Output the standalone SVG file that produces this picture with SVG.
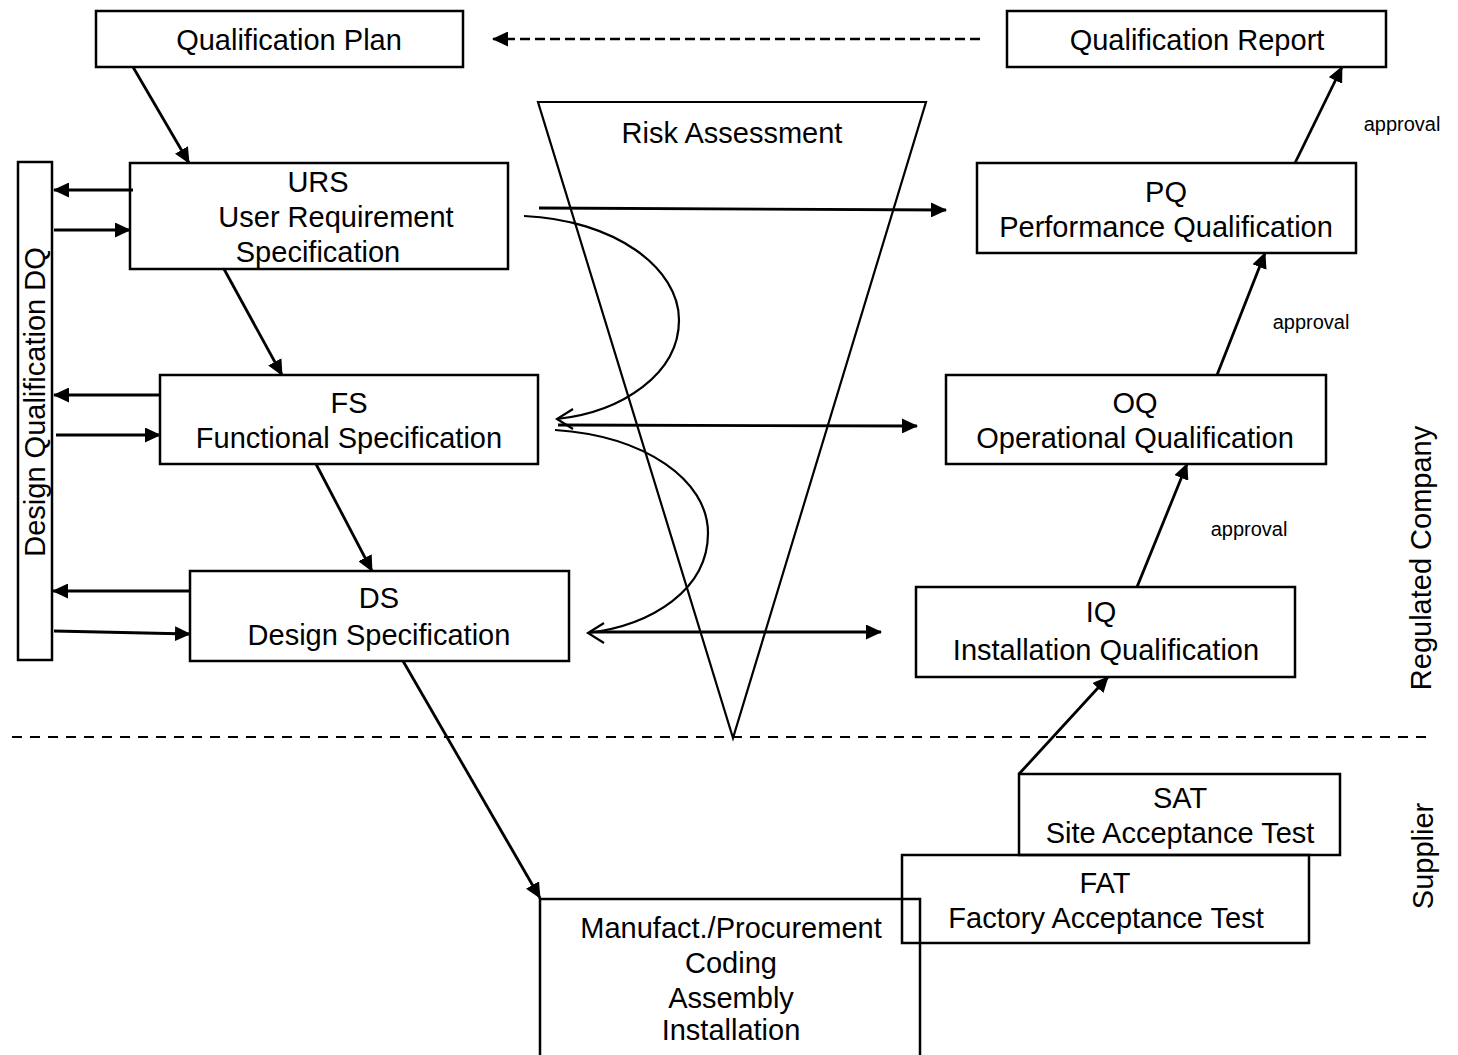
<svg xmlns="http://www.w3.org/2000/svg" width="1458" height="1055" viewBox="0 0 1458 1055">
  <style>
    .box { fill: none; stroke: #000; stroke-width: 2.5; }
    .lbl { font-family: "Liberation Sans", Arial, sans-serif; font-size: 29px; fill: #000; text-anchor: middle; }
    .small { font-family: "Liberation Sans", Arial, sans-serif; font-size: 20px; fill: #000; text-anchor: middle; }
    .arr { fill: none; stroke: #000; stroke-width: 2.8; marker-end: url(#head); }
    .curve { fill: none; stroke: #000; stroke-width: 2.2; }
    .open { fill: none; stroke: #000; stroke-width: 2.2; }
    .dash { fill: none; stroke: #000; stroke-width: 2.2; stroke-dasharray: 10 8; }
  </style>
  <defs>
    <marker id="head" markerUnits="userSpaceOnUse" markerWidth="16" markerHeight="15" refX="15" refY="7.5" orient="auto">
      <path d="M0,0 L16,7.5 L0,15 Z" fill="#000"/>
    </marker>
  </defs>
  <rect width="1458" height="1055" fill="#fff"/>

  <!-- phase boundary -->
  <line class="dash" x1="12" y1="737" x2="1432" y2="737"/>

  <!-- risk funnel -->
  <g id="risk">
    <polygon points="538,102 926,102 733,738" fill="none" stroke="#000" stroke-width="2.2"/>
    <text class="lbl" x="732" y="143">Risk Assessment</text>
  </g>

  <g id="qplan">
    <rect class="box" x="96" y="11" width="367" height="56"/>
    <text class="lbl" x="289" y="50">Qualification Plan</text>
  </g>
  <g id="qreport">
    <rect class="box" x="1007" y="11" width="379" height="56"/>
    <text class="lbl" x="1197" y="50">Qualification Report</text>
  </g>
  <g id="dq">
    <rect class="box" x="18" y="162" width="34" height="498"/>
    <text class="lbl" transform="translate(45,402) rotate(-90)">Design Qualification DQ</text>
  </g>
  <g id="urs">
    <rect class="box" x="130" y="163" width="378" height="106"/>
    <text class="lbl" x="318" y="192">URS</text>
    <text class="lbl" x="336" y="227">User Requirement</text>
    <text class="lbl" x="318" y="262">Specification</text>
  </g>
  <g id="fs">
    <rect class="box" x="160" y="375" width="378" height="89"/>
    <text class="lbl" x="349" y="413">FS</text>
    <text class="lbl" x="349" y="448">Functional Specification</text>
  </g>
  <g id="ds">
    <rect class="box" x="190" y="571" width="379" height="90"/>
    <text class="lbl" x="379" y="608">DS</text>
    <text class="lbl" x="379" y="645">Design Specification</text>
  </g>
  <g id="pq">
    <rect class="box" x="977" y="163" width="379" height="90"/>
    <text class="lbl" x="1166" y="202">PQ</text>
    <text class="lbl" x="1166" y="237">Performance Qualification</text>
  </g>
  <g id="oq">
    <rect class="box" x="946" y="375" width="380" height="89"/>
    <text class="lbl" x="1135" y="413">OQ</text>
    <text class="lbl" x="1135" y="448">Operational Qualification</text>
  </g>
  <g id="iq">
    <rect class="box" x="916" y="587" width="379" height="90"/>
    <text class="lbl" x="1101" y="622">IQ</text>
    <text class="lbl" x="1106" y="660">Installation Qualification</text>
  </g>
  <g id="sat">
    <rect class="box" x="1019" y="774" width="321" height="81"/>
    <text class="lbl" x="1180" y="808">SAT</text>
    <text class="lbl" x="1180" y="843">Site Acceptance Test</text>
  </g>
  <g id="fat">
    <rect class="box" x="902" y="855" width="407" height="88"/>
    <text class="lbl" x="1105" y="893">FAT</text>
    <text class="lbl" x="1106" y="928">Factory Acceptance Test</text>
  </g>
  <g id="manufacture">
    <rect class="box" x="540" y="899" width="380" height="170"/>
    <text class="lbl" x="731" y="938">Manufact./Procurement</text>
    <text class="lbl" x="731" y="973">Coding</text>
    <text class="lbl" x="731" y="1008">Assembly</text>
    <text class="lbl" x="731" y="1040">Installation</text>
  </g>

  <!-- side labels -->
  <g id="side-labels">
    <text class="lbl" transform="translate(1431,558) rotate(-90)">Regulated Company</text>
    <text class="lbl" transform="translate(1433,856) rotate(-90)">Supplier</text>
    <text class="small" x="1402" y="131">approval</text>
    <text class="small" x="1311" y="329">approval</text>
    <text class="small" x="1249" y="536">approval</text>
  </g>

  <g id="connectors">
    <!-- report feeds back into plan -->
    <line x1="980" y1="39" x2="493" y2="39" fill="none" stroke="#000" stroke-width="2.6" stroke-dasharray="10 5" marker-end="url(#head)"/>

    <!-- left leg -->
    <line class="arr" x1="133" y1="67" x2="189" y2="163"/>
    <line class="arr" x1="224" y1="269" x2="282" y2="375"/>
    <line class="arr" x1="316" y1="464" x2="372" y2="571"/>
    <line class="arr" x1="403" y1="661" x2="540" y2="898"/>

    <!-- design qualification exchange -->
    <line class="arr" x1="133" y1="190" x2="54" y2="190"/>
    <line class="arr" x1="54" y1="230" x2="130" y2="230"/>
    <line class="arr" x1="160" y1="395" x2="54" y2="395"/>
    <line class="arr" x1="56" y1="435" x2="160" y2="435"/>
    <line class="arr" x1="190" y1="591" x2="53" y2="591"/>
    <line class="arr" x1="54" y1="631" x2="190" y2="634"/>

    <!-- specification to qualification -->
    <line class="arr" x1="539" y1="208" x2="946" y2="210"/>
    <line class="arr" x1="558" y1="425" x2="917" y2="426"/>
    <line class="arr" x1="590" y1="632" x2="881" y2="632"/>

    <!-- risk feedback loops -->
    <path class="curve" d="M524,216 C615,220 679,268 679,320 C679,374 622,412 557,419"/>
    <polyline class="open" points="573,409 557,419 573,429"/>
    <path class="curve" d="M555,430 C645,436 708,480 708,533 C708,590 652,625 588,633"/>
    <polyline class="open" points="604,623 588,633 604,643"/>

    <!-- right leg -->
    <line class="arr" x1="1019" y1="774" x2="1108" y2="677"/>
    <line class="arr" x1="1137" y1="587" x2="1187" y2="464"/>
    <line class="arr" x1="1217" y1="375" x2="1265" y2="253"/>
    <line class="arr" x1="1295" y1="163" x2="1342" y2="67"/>
  </g>
</svg>
